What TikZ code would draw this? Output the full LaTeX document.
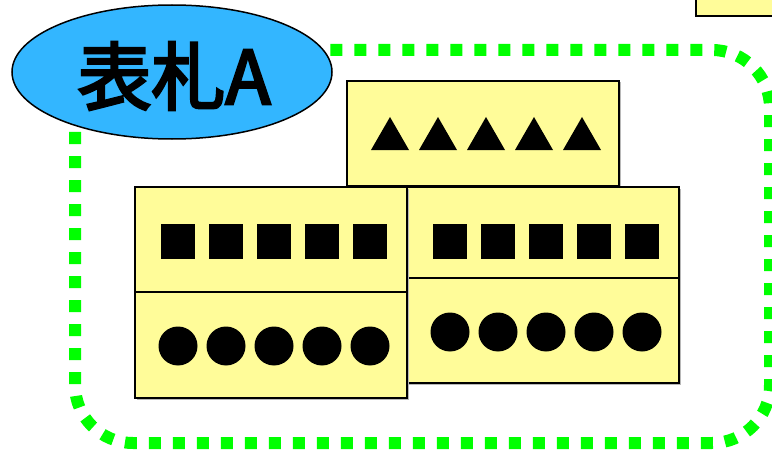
\documentclass[tikz,border=0pt]{standalone}
\usepackage{fontspec}
\usetikzlibrary{shapes.geometric}
\newfontfamily\cjkfont[FakeBold=3.5]{Noto Sans CJK JP}
\definecolor{paleyel}{HTML}{FFFC99}
\definecolor{skyblue}{HTML}{33B6FF}
\definecolor{brightgreen}{HTML}{00FF00}
\begin{document}
\begin{tikzpicture}[x=1pt,y=-1pt,
  panel/.style={draw=black,line width=2pt,fill=paleyel},
  panelshadow/.style={fill=black!28},
  blob/.style={fill=black},
  tagshape/.style={ellipse,draw=black,line width=1.5pt,fill=skyblue,minimum width=320pt,minimum height=134pt,inner sep=0pt},
  border/.style={draw=brightgreen,line width=12pt,dash pattern=on 12pt off 12pt,rounded corners=58pt}]
\useasboundingbox (0,0) rectangle (772,452);
\fill[white] (0,0) rectangle (772,452);
% partial box top right
\draw[panel] (696,-10) rectangle (790,16);
% dotted frame
\draw[border] (75,50) rectangle (770,443);
% top box (triangles)
\fill[panelshadow] (348.5,82.5) rectangle (620.5,187.5);
\draw[panel] (347,81) rectangle (619,186);
\foreach \i in {0,...,4}
  \fill[blob] ({371+48*\i},150) -- ++(38,0) -- ++(-19,-33) -- cycle;
% right box
\fill[panelshadow] (408.5,188.5) rectangle (680.5,384.5);
\draw[panel] (407,187) rectangle (679,278);
\draw[panel] (407,278) rectangle (679,383);
\foreach \i in {0,...,4}{
  \fill[blob] ({433+48*\i},224) rectangle ++(34,35);
  \fill[blob] ({450+48*\i},332) circle (19.5);
}
% left box
\fill[panelshadow] (136.5,188.5) rectangle (408.5,399.5);
\draw[panel] (135,187) rectangle (407,292);
\draw[panel] (135,292) rectangle (407,398);
\foreach \i in {0,...,4}{
  \fill[blob] ({161+48*\i},224) rectangle ++(34,35);
  \fill[blob] ({178+48*\i},346) circle (19.5);
}
% label ellipse
\node[tagshape] (tag) at (172,72) {};
\node[inner sep=0pt] (tagtext) at (174,76) {\cjkfont\fontsize{74}{74}\selectfont 表札A};
\end{tikzpicture}
\end{document}
